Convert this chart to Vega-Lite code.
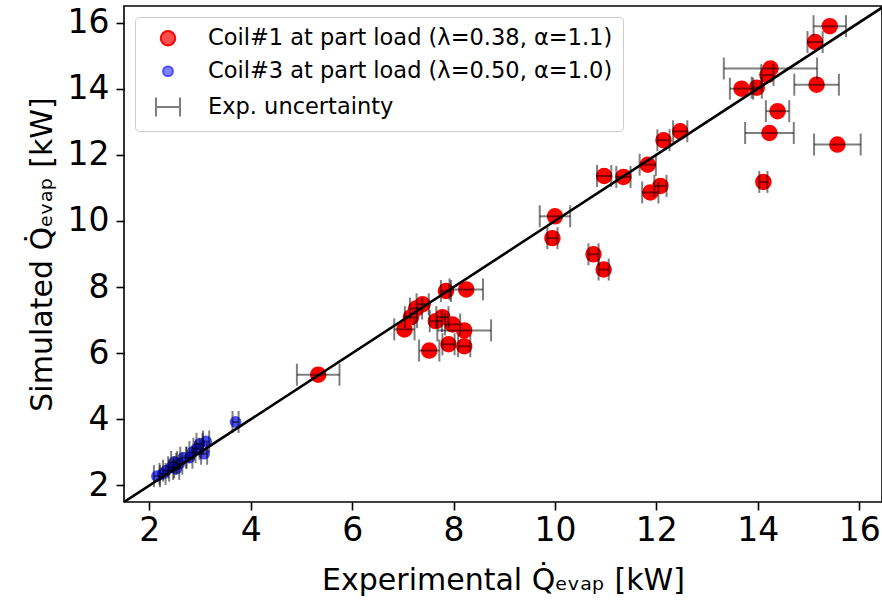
{
  "$schema": "https://vega.github.io/schema/vega-lite/v6.json",
  "width": 758,
  "height": 496,
  "autosize": {"type": "none"},
  "padding": {"left": 124, "top": 6, "right": 0, "bottom": 107},
  "background": "white",
  "config": {
    "font": "DejaVu Sans",
    "view": {"stroke": "black", "strokeWidth": 1.6},
    "axis": {
      "grid": false,
      "domain": false,
      "ticks": true,
      "tickColor": "black",
      "tickWidth": 1.6,
      "tickSize": 8,
      "labelFont": "DejaVu Sans",
      "labelFontSize": 33,
      "labelColor": "black",
      "titleFont": "DejaVu Sans",
      "titleFontSize": 30,
      "titleFontWeight": "normal",
      "titleColor": "black"
    }
  },
  "datasets": {
    "pts": [
      {"series": "Coil#1 at part load (λ=0.38, α=1.1)", "exp": 15.42, "sim": 15.89, "lo": 15.10, "hi": 15.74},
      {"series": "Coil#1 at part load (λ=0.38, α=1.1)", "exp": 15.13, "sim": 15.41, "lo": 14.98, "hi": 15.28},
      {"series": "Coil#1 at part load (λ=0.38, α=1.1)", "exp": 14.25, "sim": 14.61, "lo": 13.33, "hi": 15.17},
      {"series": "Coil#1 at part load (λ=0.38, α=1.1)", "exp": 14.19, "sim": 14.41, "lo": 14.07, "hi": 14.31},
      {"series": "Coil#1 at part load (λ=0.38, α=1.1)", "exp": 13.68, "sim": 14.00, "lo": 13.45, "hi": 13.91},
      {"series": "Coil#1 at part load (λ=0.38, α=1.1)", "exp": 13.98, "sim": 14.03, "lo": 13.88, "hi": 14.08},
      {"series": "Coil#1 at part load (λ=0.38, α=1.1)", "exp": 15.16, "sim": 14.12, "lo": 14.72, "hi": 15.60},
      {"series": "Coil#1 at part load (λ=0.38, α=1.1)", "exp": 14.39, "sim": 13.32, "lo": 14.16, "hi": 14.62},
      {"series": "Coil#1 at part load (λ=0.38, α=1.1)", "exp": 14.23, "sim": 12.66, "lo": 13.75, "hi": 14.71},
      {"series": "Coil#1 at part load (λ=0.38, α=1.1)", "exp": 15.57, "sim": 12.31, "lo": 15.11, "hi": 16.03},
      {"series": "Coil#1 at part load (λ=0.38, α=1.1)", "exp": 14.11, "sim": 11.18, "lo": 14.03, "hi": 14.19},
      {"series": "Coil#1 at part load (λ=0.38, α=1.1)", "exp": 12.47, "sim": 12.71, "lo": 12.33, "hi": 12.61},
      {"series": "Coil#1 at part load (λ=0.38, α=1.1)", "exp": 12.14, "sim": 12.44, "lo": 12.02, "hi": 12.26},
      {"series": "Coil#1 at part load (λ=0.38, α=1.1)", "exp": 11.83, "sim": 11.70, "lo": 11.67, "hi": 11.99},
      {"series": "Coil#1 at part load (λ=0.38, α=1.1)", "exp": 12.08, "sim": 11.06, "lo": 11.96, "hi": 12.20},
      {"series": "Coil#1 at part load (λ=0.38, α=1.1)", "exp": 11.88, "sim": 10.86, "lo": 11.72, "hi": 12.04},
      {"series": "Coil#1 at part load (λ=0.38, α=1.1)", "exp": 10.97, "sim": 11.36, "lo": 10.83, "hi": 11.11},
      {"series": "Coil#1 at part load (λ=0.38, α=1.1)", "exp": 11.35, "sim": 11.33, "lo": 11.21, "hi": 11.49},
      {"series": "Coil#1 at part load (λ=0.38, α=1.1)", "exp": 10.00, "sim": 10.14, "lo": 9.70, "hi": 10.30},
      {"series": "Coil#1 at part load (λ=0.38, α=1.1)", "exp": 9.95, "sim": 9.48, "lo": 9.85, "hi": 10.05},
      {"series": "Coil#1 at part load (λ=0.38, α=1.1)", "exp": 10.76, "sim": 8.99, "lo": 10.66, "hi": 10.86},
      {"series": "Coil#1 at part load (λ=0.38, α=1.1)", "exp": 10.96, "sim": 8.53, "lo": 10.86, "hi": 11.06},
      {"series": "Coil#1 at part load (λ=0.38, α=1.1)", "exp": 7.85, "sim": 7.88, "lo": 7.75, "hi": 7.95},
      {"series": "Coil#1 at part load (λ=0.38, α=1.1)", "exp": 8.25, "sim": 7.93, "lo": 7.92, "hi": 8.58},
      {"series": "Coil#1 at part load (λ=0.38, α=1.1)", "exp": 7.39, "sim": 7.48, "lo": 7.27, "hi": 7.51},
      {"series": "Coil#1 at part load (λ=0.38, α=1.1)", "exp": 7.26, "sim": 7.35, "lo": 7.14, "hi": 7.38},
      {"series": "Coil#1 at part load (λ=0.38, α=1.1)", "exp": 7.16, "sim": 7.09, "lo": 7.04, "hi": 7.28},
      {"series": "Coil#1 at part load (λ=0.38, α=1.1)", "exp": 7.03, "sim": 6.72, "lo": 6.83, "hi": 7.23},
      {"series": "Coil#1 at part load (λ=0.38, α=1.1)", "exp": 7.78, "sim": 7.09, "lo": 7.66, "hi": 7.90},
      {"series": "Coil#1 at part load (λ=0.38, α=1.1)", "exp": 7.65, "sim": 6.97, "lo": 7.53, "hi": 7.77},
      {"series": "Coil#1 at part load (λ=0.38, α=1.1)", "exp": 7.98, "sim": 6.87, "lo": 7.83, "hi": 8.13},
      {"series": "Coil#1 at part load (λ=0.38, α=1.1)", "exp": 8.21, "sim": 6.69, "lo": 7.68, "hi": 8.74},
      {"series": "Coil#1 at part load (λ=0.38, α=1.1)", "exp": 7.90, "sim": 6.27, "lo": 7.78, "hi": 8.02},
      {"series": "Coil#1 at part load (λ=0.38, α=1.1)", "exp": 8.21, "sim": 6.21, "lo": 8.09, "hi": 8.33},
      {"series": "Coil#1 at part load (λ=0.38, α=1.1)", "exp": 7.52, "sim": 6.08, "lo": 7.32, "hi": 7.72},
      {"series": "Coil#1 at part load (λ=0.38, α=1.1)", "exp": 5.33, "sim": 5.35, "lo": 4.91, "hi": 5.75},
      {"series": "Coil#3 at part load (λ=0.50, α=1.0)", "exp": 3.70, "sim": 3.92, "lo": 3.64, "hi": 3.76},
      {"series": "Coil#3 at part load (λ=0.50, α=1.0)", "exp": 3.12, "sim": 3.33, "lo": 3.06, "hi": 3.18},
      {"series": "Coil#3 at part load (λ=0.50, α=1.0)", "exp": 3.08, "sim": 2.96, "lo": 3.02, "hi": 3.14},
      {"series": "Coil#3 at part load (λ=0.50, α=1.0)", "exp": 2.99, "sim": 3.26, "lo": 2.93, "hi": 3.05},
      {"series": "Coil#3 at part load (λ=0.50, α=1.0)", "exp": 2.93, "sim": 3.11, "lo": 2.87, "hi": 2.99},
      {"series": "Coil#3 at part load (λ=0.50, α=1.0)", "exp": 2.85, "sim": 3.01, "lo": 2.79, "hi": 2.91},
      {"series": "Coil#3 at part load (λ=0.50, α=1.0)", "exp": 2.79, "sim": 2.84, "lo": 2.73, "hi": 2.85},
      {"series": "Coil#3 at part load (λ=0.50, α=1.0)", "exp": 2.67, "sim": 2.84, "lo": 2.61, "hi": 2.73},
      {"series": "Coil#3 at part load (λ=0.50, α=1.0)", "exp": 2.59, "sim": 2.66, "lo": 2.53, "hi": 2.65},
      {"series": "Coil#3 at part load (λ=0.50, α=1.0)", "exp": 2.53, "sim": 2.50, "lo": 2.47, "hi": 2.59},
      {"series": "Coil#3 at part load (λ=0.50, α=1.0)", "exp": 2.49, "sim": 2.71, "lo": 2.43, "hi": 2.55},
      {"series": "Coil#3 at part load (λ=0.50, α=1.0)", "exp": 2.43, "sim": 2.55, "lo": 2.37, "hi": 2.49},
      {"series": "Coil#3 at part load (λ=0.50, α=1.0)", "exp": 2.33, "sim": 2.45, "lo": 2.27, "hi": 2.39},
      {"series": "Coil#3 at part load (λ=0.50, α=1.0)", "exp": 2.26, "sim": 2.35, "lo": 2.20, "hi": 2.32},
      {"series": "Coil#3 at part load (λ=0.50, α=1.0)", "exp": 2.15, "sim": 2.28, "lo": 2.09, "hi": 2.21}
    ],
    "diag": [{"v": 1.5}, {"v": 16.5}]
  },
  "layer": [
    {
      "data": {"name": "pts"},
      "mark": {"type": "point", "filled": false, "strokeWidth": 2},
      "encoding": {
        "x": {"field": "exp", "type": "quantitative",
              "scale": {"domain": [1.5, 16.45], "nice": false, "zero": false},
              "axis": {"values": [2, 4, 6, 8, 10, 12, 14, 16], "labelPadding": 4, "titlePadding": 18,
                       "title": "Experimental Q̇ₑᵥₐₚ [kW]"}},
        "y": {"field": "sim", "type": "quantitative",
              "scale": {"domain": [1.5, 16.5], "nice": false, "zero": false},
              "axis": {"values": [2, 4, 6, 8, 10, 12, 14, 16], "labelPadding": 7, "titlePadding": 10,
                       "title": "Simulated Q̇ₑᵥₐₚ [kW]"}},
        "fill": {"field": "series", "type": "nominal",
                  "scale": {"domain": ["Coil#1 at part load (λ=0.38, α=1.1)", "Coil#3 at part load (λ=0.50, α=1.0)", "Exp. uncertainty"],
                            "range": ["#ff0000", "#0000ff", "#000000"]},
                  "legend": {
                    "orient": "none", "legendX": 11, "legendY": 11,
                    "title": null,
                    "padding": 10, "symbolOffset": 10, "labelOffset": 27,
                    "rowPadding": 10,
                    "symbolStrokeWidth": 2,
                    "labelFont": "DejaVu Sans", "labelFontSize": 22.5, "labelColor": "black",
                    "labelLimit": 0,
                    "strokeColor": "#cccccc", "fillColor": "rgba(255,255,255,0.8)", "cornerRadius": 4
                  }},
        "stroke": {"field": "series", "type": "nominal",
                  "scale": {"domain": ["Coil#1 at part load (λ=0.38, α=1.1)", "Coil#3 at part load (λ=0.50, α=1.0)", "Exp. uncertainty"],
                            "range": ["#ff0000", "#0000ff", "#000000"]}},
        "shape": {"field": "series", "type": "nominal",
                  "scale": {"domain": ["Coil#1 at part load (λ=0.38, α=1.1)", "Coil#3 at part load (λ=0.50, α=1.0)", "Exp. uncertainty"],
                            "range": ["circle", "circle", "M-1,0L1,0M-1,-0.8L-1,0.8M1,-0.8L1,0.8"]}},
        "size": {"field": "series", "type": "nominal",
                 "scale": {"type": "ordinal", "domain": ["Coil#1 at part load (λ=0.38, α=1.1)", "Coil#3 at part load (λ=0.50, α=1.0)", "Exp. uncertainty"],
                           "range": [210, 95, 576]}},
        "opacity": {"field": "series", "type": "nominal",
                    "scale": {"type": "ordinal", "domain": ["Coil#1 at part load (λ=0.38, α=1.1)", "Coil#3 at part load (λ=0.50, α=1.0)", "Exp. uncertainty"],
                              "range": [1, 0.7, 0.5]}}
      }
    },
    {
      "data": {"name": "pts"},
      "mark": {"type": "rule", "color": "black", "opacity": 0.5, "strokeWidth": 2},
      "encoding": {
        "x": {"field": "lo", "type": "quantitative"},
        "x2": {"field": "hi"},
        "y": {"field": "sim", "type": "quantitative"}
      }
    },
    {
      "data": {"name": "pts"},
      "mark": {"type": "tick", "orient": "vertical", "color": "black", "opacity": 0.5, "thickness": 2, "size": 22},
      "encoding": {
        "x": {"field": "lo", "type": "quantitative"},
        "y": {"field": "sim", "type": "quantitative"}
      }
    },
    {
      "data": {"name": "pts"},
      "mark": {"type": "tick", "orient": "vertical", "color": "black", "opacity": 0.5, "thickness": 2, "size": 22},
      "encoding": {
        "x": {"field": "hi", "type": "quantitative"},
        "y": {"field": "sim", "type": "quantitative"}
      }
    },
    {
      "data": {"name": "diag"},
      "mark": {"type": "line", "color": "black", "strokeWidth": 2.6, "clip": true},
      "encoding": {
        "x": {"field": "v", "type": "quantitative"},
        "y": {"field": "v", "type": "quantitative"}
      }
    }
  ]
}
